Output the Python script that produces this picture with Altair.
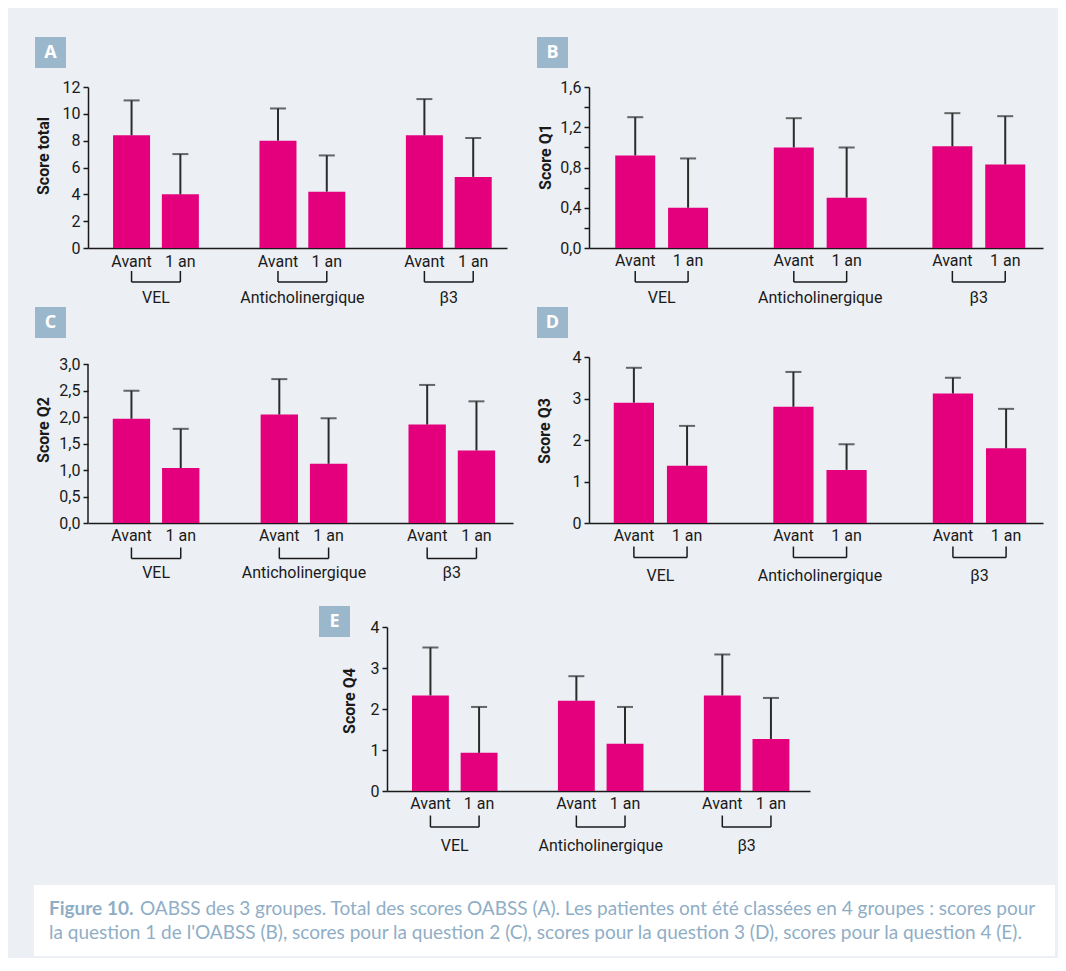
import altair as alt
import pandas as pd

# ---------------- data ----------------
groups = ["VEL", "Anticholinergique", "β3"]
times = ["Avant", "1 an"]

a_mean = [8.4, 4.0, 8.0, 4.2, 8.4, 5.3]
a_high = [11.0, 7.0, 10.4, 6.9, 11.1, 8.2]
b_mean = [0.92, 0.40, 1.00, 0.50, 1.01, 0.83]
b_high = [1.30, 0.89, 1.29, 1.00, 1.34, 1.31]
c_mean = [1.97, 1.04, 2.05, 1.12, 1.86, 1.37]
c_high = [2.50, 1.78, 2.72, 1.98, 2.61, 2.30]
d_mean = [2.90, 1.38, 2.80, 1.28, 3.12, 1.80]
d_high = [3.74, 2.34, 3.64, 1.90, 3.50, 2.75]
e_mean = [2.33, 0.93, 2.20, 1.15, 2.33, 1.27]
e_high = [3.50, 2.05, 2.80, 2.05, 3.33, 2.27]

a_ticks = [0, 2, 4, 6, 8, 10, 12]
b_ticks = [0.0, 0.2, 0.4, 0.6, 0.8, 1.0, 1.2, 1.4, 1.6]
c_ticks = [0.0, 0.5, 1.0, 1.5, 2.0, 2.5, 3.0]
d_ticks = [0, 1, 2, 3, 4]
e_ticks = [0, 1, 2, 3, 4]

caption_bold = "Figure 10."
caption_line1 = "OABSS des 3 groupes. Total des scores OABSS (A). Les patientes ont été classées en 4 groupes : scores pour"
caption_line2 = "la question 1 de l'OABSS (B), scores pour la question 2 (C), scores pour la question 3 (D), scores pour la question 4 (E)."

# ---------------- style ----------------
MAG = "#E4007C"
ERR = "#2b2b2b"
AX = "#1a1a1a"
BOX = "#9BB7CB"
BG = "#ECEFF4"
CAPC = "#8FAEC6"
COND = "Roboto"
CAPF = "Lato"
FS = 16

one = pd.DataFrame({"k": [0]})


def panel(letter, title, mean, high, ticks, ymax, label_expr, W, H, xdom,
          box, ttl, lab_dy, br1, br2, grp_dy, rule_top=None):
    rows = []
    for gi, g in enumerate(groups):
        for ti, t in enumerate(times):
            i = gi * 2 + ti
            rows.append(dict(group=g, time=t, pos=gi * 3 + ti, mean=mean[i], high=high[i]))
    df = pd.DataFrame(rows)
    gdf = pd.DataFrame([dict(group=g, start=gi * 3, end=gi * 3 + 1, mid=gi * 3 + 0.5)
                        for gi, g in enumerate(groups)])
    unit = W / (xdom[1] - xdom[0])
    bw = 0.74 * unit
    xs = alt.Scale(domain=xdom, nice=False, zero=False)
    ys = alt.Scale(domain=[0, ymax], nice=False, zero=True)
    yaxis_kw = dict(values=ticks, tickCount=50, title=None, grid=False,
                    domain=rule_top is None,
                    domainColor=AX, domainWidth=1.5, tickColor=AX, tickWidth=1.5,
                    tickSize=5, labelFont=COND, labelFontSize=FS, labelColor=AX,
                    labelPadding=3, labelOverlap=False)
    if label_expr:
        yaxis_kw["labelExpr"] = label_expr
    else:
        yaxis_kw["format"] = "d"
    xaxis = alt.Axis(labels=False, ticks=False, title=None, grid=False,
                     domainColor=AX, domainWidth=1.5)
    base = alt.Chart(df)
    bars = base.mark_bar(color=MAG, size=bw).encode(
        x=alt.X("pos:Q", scale=xs, axis=xaxis, title=None),
        y=alt.Y("mean:Q", scale=ys, axis=alt.Axis(**yaxis_kw), title=None),
    )
    err = base.mark_rule(color=ERR, strokeWidth=2).encode(
        x=alt.X("pos:Q", scale=xs, title=None),
        y=alt.Y("mean:Q", scale=ys, title=None),
        y2="high:Q",
    )
    caps = base.mark_tick(color=ERR, size=16, thickness=2, orient="horizontal").encode(
        x=alt.X("pos:Q", scale=xs, title=None),
        y=alt.Y("high:Q", scale=ys, title=None),
    )
    tlabels = base.mark_text(font=COND, fontSize=FS, color=AX, baseline="alphabetic",
                             align="center").encode(
        x=alt.X("pos:Q", scale=xs, title=None),
        y=alt.value(H + lab_dy),
        text="time:N",
    )
    br_h = alt.Chart(gdf).mark_rule(color=AX, strokeWidth=1.5).encode(
        x=alt.X("start:Q", scale=xs, title=None),
        x2="end:Q",
        y=alt.value(H + br2),
    )
    br_v = base.mark_rule(color=AX, strokeWidth=1.5).encode(
        x=alt.X("pos:Q", scale=xs, title=None),
        y=alt.value(H + br1),
        y2=alt.value(H + br2),
    )
    glabels = alt.Chart(gdf).mark_text(font=COND, fontSize=FS, color=AX,
                                       baseline="alphabetic", align="center").encode(
        x=alt.X("mid:Q", scale=xs, title=None),
        y=alt.value(H + grp_dy),
        text="group:N",
    )
    bx, by = box
    rect = alt.Chart(one).mark_rect(color=BOX).encode(
        x=alt.value(bx), x2=alt.value(bx + 31), y=alt.value(by), y2=alt.value(by + 31)
    )
    ltxt = alt.Chart(one).mark_text(text=letter, font="Open Sans", fontWeight="bold",
                                    fontSize=18, color="white", align="center",
                                    baseline="middle").encode(
        x=alt.value(bx + 15.5), y=alt.value(by + 16)
    )
    tx, ty = ttl
    ytitle = alt.Chart(one).mark_text(text=title, font=COND, fontWeight="bold",
                                      fontSize=FS, color=AX, angle=270, align="center",
                                      baseline="middle").encode(
        x=alt.value(tx), y=alt.value(ty)
    )
    layers = [bars, err, caps, tlabels, br_h, br_v, glabels, rect, ltxt, ytitle]
    if rule_top is not None:
        rdf = pd.DataFrame({"y0": [0.0], "y1": [rule_top]})
        axrule = alt.Chart(rdf).mark_rule(color=AX, strokeWidth=1.5).encode(
            x=alt.value(0),
            y=alt.Y("y0:Q", scale=ys, title=None),
            y2="y1:Q",
        )
        layers.append(axrule)
    return alt.layer(*layers).properties(width=W, height=H)


comma1 = "replace(format(datum.value, '.1f'), '.', ',')"
comma_b = "(round(datum.value*10) % 4 == 0) ? replace(format(datum.value, '.1f'), '.', ',') : ''"

A = panel("A", "Score total", a_mean, a_high, a_ticks, 12, None, 419, 161, [-0.79, 7.59],
          (-53, -50), (-44, 69), 19, 23, 34, 55)
B = panel("B", "Score Q1", b_mean, b_high, b_ticks, 1.6, comma_b, 454, 161, [-0.78, 7.62],
          (-52, -50), (-43, 70), 18, 23, 34, 55)
C = panel("C", "Score Q2", c_mean, c_high, c_ticks, 3.0 * 166 / 158.7, comma1, 425, 166,
          [-0.78, 7.64], (-53, -50), (-44, 73), 17.5, 24.5, 35.5, 55, rule_top=3.0)
D = panel("D", "Score Q3", d_mean, d_high, d_ticks, 4, None, 454, 166, [-0.75, 7.60],
          (-52, -50), (-44, 74), 18, 23.5, 34.5, 58)
E = panel("E", "Score Q4", e_mean, e_high, e_ticks, 4, None, 423, 164, [-0.79, 7.70],
          (-68, -21), (-37, 74), 18, 24.5, 36, 59.5)

SPW = 231
spacer = alt.Chart(one).mark_rule(strokeOpacity=0).encode(
    x=alt.value(0), x2=alt.value(SPW), y=alt.value(0)
).properties(width=SPW, height=10)

CX, CW, CH = -54, 1021, 71
cap_rect = alt.Chart(one).mark_rect(color="white").encode(
    x=alt.value(CX), x2=alt.value(CX + CW), y=alt.value(0), y2=alt.value(CH)
)
cap_b = alt.Chart(one).mark_text(text=caption_bold, font=CAPF, fontWeight="bold",
                                 fontSize=19, color=CAPC, align="left",
                                 baseline="alphabetic").encode(
    x=alt.value(CX + 15), y=alt.value(30))
cap_1 = alt.Chart(one).mark_text(text=caption_line1, font=CAPF, fontSize=19, color=CAPC,
                                 align="left", baseline="alphabetic").encode(
    x=alt.value(CX + 106), y=alt.value(30))
cap_2 = alt.Chart(one).mark_text(text=caption_line2, font=CAPF, fontSize=19, color=CAPC,
                                 align="left", baseline="alphabetic").encode(
    x=alt.value(CX + 15), y=alt.value(54))
caption = alt.layer(cap_rect, cap_b, cap_1, cap_2).properties(width=CX + CW, height=CH)

row1 = alt.hconcat(A, B, spacing=30)
row2 = alt.hconcat(C, D, spacing=24)
row3 = alt.hconcat(spacer, E, spacing=0)
top = alt.vconcat(row1, row2, spacing=1)
mid = alt.vconcat(top, row3, spacing=22)
chart = alt.vconcat(mid, caption, spacing=31).properties(
    padding={"left": 26, "top": 29, "right": 3, "bottom": 2},
    background=BG,
).configure_view(stroke=None)

chart.save("out.html", embed_options={"renderer": "svg", "actions": False})
